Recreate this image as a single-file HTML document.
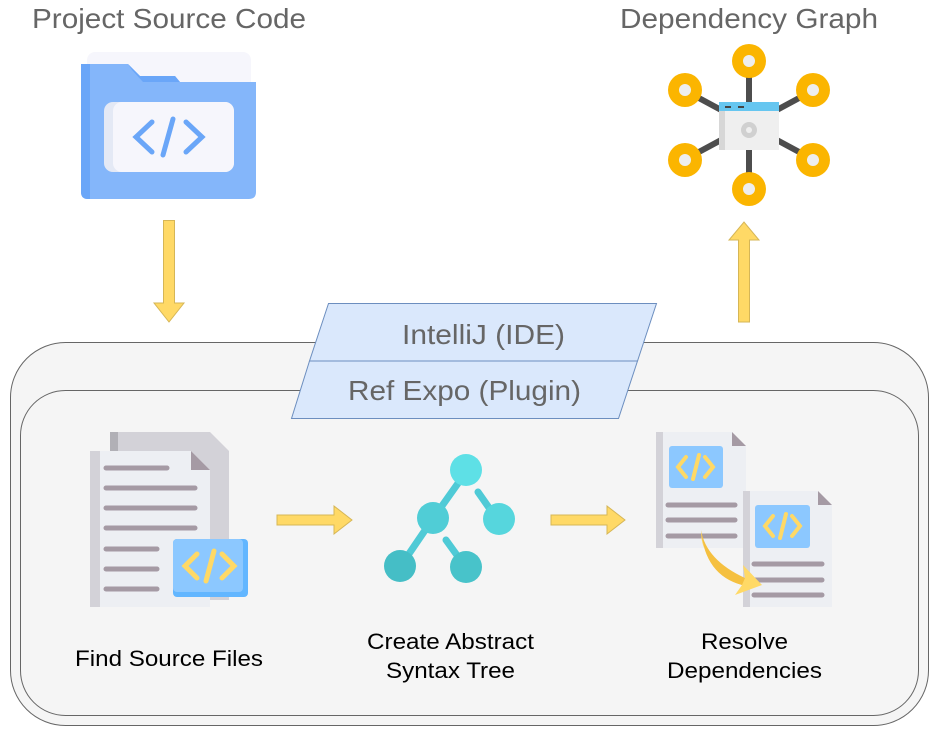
<!DOCTYPE html>
<html><head><meta charset="utf-8"><style>
html,body{margin:0;padding:0;background:#fff;}
svg{display:block;}
text{font-family:"Liberation Sans",Arial,sans-serif;}
</style></head><body>
<svg width="930" height="730" viewBox="0 0 930 730" xmlns="http://www.w3.org/2000/svg">
<!-- containers -->
<rect x="10.5" y="342.5" width="918" height="383" rx="55" fill="#f5f5f5" stroke="#666" stroke-width="1"/>
<rect x="20.5" y="390.5" width="898" height="325" rx="45" fill="#f5f5f5" stroke="#666" stroke-width="1"/>
<!-- titles -->
<text x="32" y="28" font-size="28" fill="#666" textLength="274" lengthAdjust="spacingAndGlyphs">Project Source Code</text>
<text x="620" y="28" font-size="28" fill="#666" textLength="258" lengthAdjust="spacingAndGlyphs">Dependency Graph</text>
<!-- folder icon -->
<rect x="87" y="52" width="164" height="140" rx="8" fill="#f6f6fc"/>
<path d="M81,64 L128,64 L140,76 L175,76 L180,82 L256,82 L256,192 Q256,199 249,199 L88,199 Q81,199 81,192 Z" fill="#84b6fa"/>
<path d="M81,64 L90,64 L90,199 L88,199 Q81,199 81,192 Z" fill="#6aa6f8"/>
<path d="M128,64 L140,76 L175,76 L180,82 L143,82 L132,70 Z" fill="#6aa6f8"/>
<rect x="104" y="102" width="130" height="70" rx="9" fill="#e4e9f5"/>
<rect x="113" y="102" width="121" height="70" rx="9" fill="#f6f6fc"/>
<g stroke="#6aa6f8" stroke-width="5" stroke-linecap="round" fill="none">
<path d="M152,122 L136,137 L152,152"/><path d="M186,122 L202,137 L186,152"/><path d="M173,119 L163,155"/>
</g>
<!-- graph icon -->
<g stroke="#4d4d4d" stroke-width="6">
<line x1="749" y1="60" x2="749" y2="190"/>
<line x1="684" y1="90" x2="814" y2="160"/>
<line x1="684" y1="160" x2="814" y2="90"/>
</g>
<rect x="719" y="102" width="60" height="48" fill="#efefef"/>
<rect x="719" y="102" width="6" height="48" fill="#d7d7d7"/>
<rect x="719" y="102" width="60" height="9" fill="#66c6f0"/>
<rect x="725" y="106" width="6" height="2" fill="#444"/><rect x="738" y="106" width="6" height="2" fill="#444"/>
<circle cx="749" cy="130" r="8" fill="#d0d0d0"/><circle cx="749" cy="130" r="3" fill="#efefef"/>
<g>
<circle cx="749" cy="61" r="17" fill="#fbb500"/><circle cx="749" cy="61" r="6" fill="#eee"/>
<circle cx="685" cy="90" r="17" fill="#fbb500"/><circle cx="685" cy="90" r="6" fill="#eee"/>
<circle cx="813" cy="90" r="17" fill="#fbb500"/><circle cx="813" cy="90" r="6" fill="#eee"/>
<circle cx="685" cy="160" r="17" fill="#fbb500"/><circle cx="685" cy="160" r="6" fill="#eee"/>
<circle cx="813" cy="160" r="17" fill="#fbb500"/><circle cx="813" cy="160" r="6" fill="#eee"/>
<circle cx="749" cy="189" r="17" fill="#fbb500"/><circle cx="749" cy="189" r="6" fill="#eee"/>
</g>
<!-- arrows -->
<g fill="#ffd966" stroke="#d6b656" stroke-width="1">
<path d="M163.5,220.5 L174.5,220.5 L174.5,303 L184,303 L169,322 L154,303 L163.5,303 Z"/>
<path d="M738.5,322 L749.5,322 L749.5,240 L759,240 L744,222 L729,240 L738.5,240 Z"/>
<path d="M277,515 L334,515 L334,506 L352,520 L334,534 L334,525 L277,525 Z"/>
<path d="M551,515 L607,515 L607,506 L625,520 L607,534 L607,525 L551,525 Z"/>
</g>
<!-- parallelograms -->
<path d="M328.5,303.5 L656.5,303.5 L637.5,361 L309.5,361 Z" fill="#dae8fc" stroke="#6c8ebf" stroke-width="1"/>
<path d="M309.5,361 L637.5,361 L618.5,418.5 L291.5,418.5 Z" fill="#dae8fc" stroke="#6c8ebf" stroke-width="1"/>
<text x="402" y="344" font-size="28" fill="#666" textLength="163" lengthAdjust="spacingAndGlyphs">IntelliJ (IDE)</text>
<text x="348" y="400" font-size="28" fill="#666" textLength="233" lengthAdjust="spacingAndGlyphs">Ref Expo (Plugin)</text>
<!-- find source files icon -->
<path d="M110,432 L210,432 L229,451 L229,600 L110,600 Z" fill="#d3d2d8"/>
<rect x="110" y="432" width="8" height="168" fill="#b1b0b6"/>
<path d="M90,451 L191,451 L210,470 L210,607 L93,607 Q90,607 90,604 Z" fill="#edeff3"/>
<rect x="90" y="451" width="10" height="156" fill="#d3d2d8"/>
<path d="M191,451 L210,470 L191,470 Z" fill="#a59aa4"/>
<g stroke="#a59aa4" stroke-width="5" stroke-linecap="round">
<line x1="106" y1="468" x2="167" y2="468"/>
<line x1="106" y1="488" x2="195" y2="488"/>
<line x1="106" y1="508" x2="195" y2="508"/>
<line x1="106" y1="528" x2="195" y2="528"/>
<line x1="106" y1="549" x2="157" y2="549"/>
<line x1="106" y1="569" x2="157" y2="569"/>
<line x1="106" y1="589" x2="157" y2="589"/>
</g>
<rect x="173" y="539" width="75" height="58" rx="4" fill="#62b6ff"/>
<rect x="173" y="539" width="70" height="53" rx="4" fill="#8cc8ff"/>
<g stroke="#ffd966" stroke-width="5" stroke-linecap="round" fill="none">
<path d="M197,554 L185,566 L197,578"/><path d="M222,554 L234,566 L222,578"/><path d="M214,551 L206,581"/>
</g>
<!-- AST icon -->
<g stroke="#4fcad6" stroke-width="7" stroke-linecap="round">
<line x1="466" y1="472" x2="432" y2="520"/><line x1="432" y1="520" x2="400" y2="567"/>
<line x1="478" y1="492" x2="492" y2="512"/><line x1="446" y1="540" x2="459" y2="558"/>
</g>
<circle cx="466" cy="470" r="16" fill="#5ee0e6"/>
<circle cx="433" cy="518" r="16" fill="#50cdd6"/>
<circle cx="499" cy="519" r="16" fill="#56d6dd"/>
<circle cx="400" cy="566" r="16" fill="#45bec6"/>
<circle cx="466" cy="567" r="16" fill="#48c3ca"/>
<!-- resolve deps icon -->
<path d="M656,432 L732,432 L746,446 L746,548 L656,548 Z" fill="#edeff3"/>
<rect x="656" y="432" width="7" height="116" fill="#d3d2d8"/>
<path d="M732,432 L746,446 L732,446 Z" fill="#a59aa4"/>
<rect x="669" y="446" width="54" height="42" rx="3" fill="#8cc8ff"/>
<g stroke="#ffd966" stroke-width="4" stroke-linecap="round" fill="none">
<path d="M686,457 L678,467 L686,477"/><path d="M705,457 L713,467 L705,477"/><path d="M699,455 L693,479"/>
</g>
<g stroke="#a59aa4" stroke-width="5" stroke-linecap="round">
<line x1="668" y1="505" x2="735" y2="505"/><line x1="668" y1="520" x2="735" y2="520"/><line x1="668" y1="536" x2="735" y2="536"/>
</g>
<path d="M743,491 L818,491 L832,505 L832,607 L743,607 Z" fill="#edeff3"/>
<rect x="743" y="491" width="7" height="116" fill="#d3d2d8"/>
<path d="M818,491 L832,505 L818,505 Z" fill="#a59aa4"/>
<rect x="755" y="505" width="55" height="43" rx="3" fill="#8cc8ff"/>
<g stroke="#ffd966" stroke-width="4" stroke-linecap="round" fill="none">
<path d="M773,516 L765,526 L773,536"/><path d="M792,516 L800,526 L792,536"/><path d="M786,514 L780,538"/>
</g>
<g stroke="#a59aa4" stroke-width="5" stroke-linecap="round">
<line x1="754" y1="564" x2="822" y2="564"/><line x1="754" y1="580" x2="822" y2="580"/><line x1="754" y1="595" x2="822" y2="595"/>
</g>
<path d="M701,530 Q700,565 745,578 L743,565 L762,585 L735,595 L742,585 Q705,575 701,530 Z" fill="#ffd966"/>
<path d="M701,530 Q706,560 745,578 L742,585 Q705,575 701,530 Z" fill="#f5c040"/>
<!-- labels -->
<text x="75" y="666" font-size="22" fill="#000" textLength="188" lengthAdjust="spacingAndGlyphs">Find Source Files</text>
<text x="367" y="649" font-size="22" fill="#000" textLength="167" lengthAdjust="spacingAndGlyphs">Create Abstract</text>
<text x="386" y="678" font-size="22" fill="#000" textLength="129" lengthAdjust="spacingAndGlyphs">Syntax Tree</text>
<text x="701" y="649" font-size="22" fill="#000" textLength="87" lengthAdjust="spacingAndGlyphs">Resolve</text>
<text x="667" y="678" font-size="22" fill="#000" textLength="155" lengthAdjust="spacingAndGlyphs">Dependencies</text>
</svg>
</body></html>
